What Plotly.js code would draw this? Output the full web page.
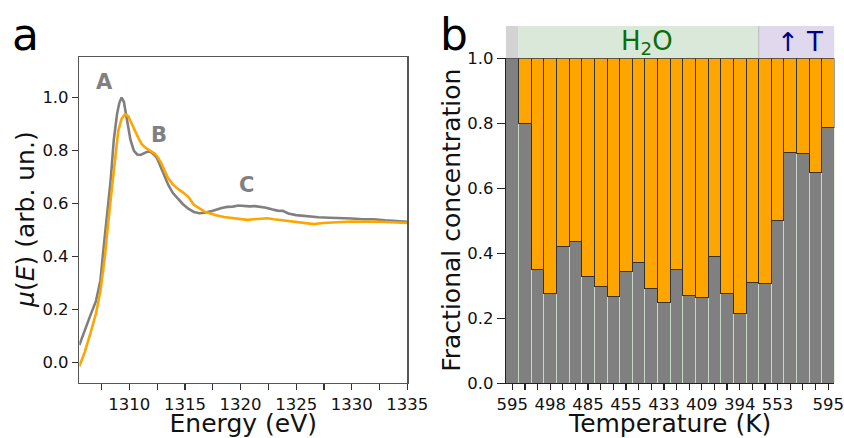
<!DOCTYPE html>
<html>
<head>
<meta charset="utf-8">
<script src="https://cdn.plot.ly/plotly-3.0.1.min.js"></script>
<style>html,body{margin:0;padding:0;background:#fff;}#chart{width:844px;height:438px;}</style>
</head>
<body>
<div id="chart"></div>
<script>
// ---- Panel a: XANES spectra ----
const energyGray = [1305.5,1306.0,1306.5,1307.0,1307.4,1307.7,1308.0,1308.3,1308.6,1308.9,1309.1,1309.3,1309.5,1309.7,1309.9,1310.1,1310.4,1310.7,1311.0,1311.3,1311.6,1311.9,1312.2,1312.5,1312.8,1313.1,1313.5,1313.9,1314.3,1314.8,1315.3,1315.8,1316.3,1316.8,1317.3,1317.8,1318.3,1318.8,1319.3,1319.8,1320.3,1320.8,1321.3,1321.8,1322.3,1322.8,1323.3,1323.8,1324.3,1325,1326,1327,1328,1329,1330,1331,1332,1333,1334,1335];
const muGray = [0.065,0.125,0.178,0.232,0.31,0.44,0.56,0.68,0.84,0.94,0.98,1.0,0.985,0.94,0.885,0.84,0.80,0.785,0.783,0.788,0.795,0.795,0.785,0.77,0.74,0.71,0.67,0.64,0.62,0.598,0.58,0.568,0.563,0.565,0.57,0.578,0.583,0.587,0.588,0.592,0.59,0.589,0.59,0.588,0.584,0.578,0.573,0.572,0.562,0.556,0.551,0.548,0.546,0.545,0.543,0.54,0.54,0.536,0.533,0.531];

const energyOrange = [1305.5,1306.0,1306.5,1307.0,1307.4,1307.8,1308.1,1308.4,1308.7,1309.0,1309.3,1309.6,1309.9,1310.2,1310.5,1310.8,1311.1,1311.4,1311.7,1312.0,1312.3,1312.6,1312.9,1313.2,1313.5,1313.9,1314.3,1314.8,1315.3,1315.8,1316.3,1316.8,1317.3,1317.8,1318.5,1319.3,1320,1320.6,1321.2,1321.8,1322.4,1323,1323.6,1324.2,1325,1325.8,1326.6,1327.4,1328.2,1329,1330,1331,1332,1333,1334,1335];
const muOrange = [-0.015,0.04,0.11,0.185,0.27,0.40,0.53,0.65,0.78,0.875,0.92,0.937,0.93,0.905,0.875,0.848,0.825,0.812,0.805,0.797,0.788,0.772,0.75,0.72,0.695,0.673,0.657,0.642,0.625,0.595,0.58,0.568,0.562,0.555,0.549,0.544,0.54,0.538,0.54,0.541,0.544,0.54,0.537,0.532,0.528,0.525,0.522,0.526,0.528,0.53,0.532,0.531,0.532,0.53,0.528,0.526];

const energyTicks = [1310,1315,1320,1325,1330,1335];
const muTicks = [0,0.2,0.4,0.6,0.8,1.0];

// ---- Panel b: fractional concentration ----
const grayFraction = [1.0,0.80,0.35,0.277,0.422,0.436,0.33,0.297,0.266,0.343,0.373,0.292,0.249,0.351,0.269,0.265,0.389,0.275,0.216,0.31,0.308,0.50,0.71,0.708,0.648,0.787];
const tempTickPos = [0,3,6,9,12,15,18,21,25];
const tempTickText = ['595','498','485','455','433','409','394','553','595'];
const fracTicks = [0,0.2,0.4,0.6,0.8,1.0];

const FONT = 'DejaVu Sans, sans-serif';
const barIdx = grayFraction.map((_, i) => i);
const orangeFraction = grayFraction.map(v => 1 - v);

const traces = [
  {x: energyGray, y: muGray, type: 'scatter', mode: 'lines', xaxis: 'x', yaxis: 'y',
   line: {color: '#808080', width: 2.6}, hoverinfo: 'skip'},
  {x: energyOrange, y: muOrange, type: 'scatter', mode: 'lines', xaxis: 'x', yaxis: 'y',
   line: {color: '#FFA500', width: 2.6}, hoverinfo: 'skip'},
  {x: barIdx, y: grayFraction, type: 'bar', xaxis: 'x2', yaxis: 'y2',
   marker: {color: '#808080', line: {color: '#c8d8c8', width: 1}}},
  {x: barIdx, y: orangeFraction, type: 'bar', xaxis: 'x2', yaxis: 'y2',
   marker: {color: '#FFA500', line: {color: '#333333', width: 1}}}
];

const axisCommon = {
  showgrid: false, zeroline: false, showline: true, ticks: 'outside', ticklen: 6,
  tickwidth: 1.2, tickfont: {family: FONT, size: 16.5, color: '#111'}
};

const stripBottom = 0.8669, stripTop = 0.9406;
const titleFont = {family: FONT, size: 25, color: '#111'};

const layout = {
  width: 844, height: 438,
  margin: {l: 0, r: 0, t: 0, b: 0},
  paper_bgcolor: '#fff', plot_bgcolor: '#fff',
  showlegend: false,
  font: {family: FONT, color: '#111'},
  barmode: 'stack', bargap: 0,
  xaxis: Object.assign({}, axisCommon, {
    domain: [0.094, 0.4826], anchor: 'y', range: [1305.5, 1335],
    tickmode: 'array', tickvals: energyTicks,
    minor: {tickmode: 'linear', tick0: 1307.5, dtick: 2.5, ticks: 'outside', ticklen: 6, tickwidth: 1.2, tickcolor: '#333'},
    mirror: true, linecolor: '#555', linewidth: 1.4, tickcolor: '#333',
    title: {text: 'Energy (eV)', font: titleFont, standoff: 4}
  }),
  yaxis: Object.assign({}, axisCommon, {
    domain: [0.1263, 0.8692], anchor: 'x', range: [-0.077, 1.152],
    tickmode: 'array', tickvals: muTicks, tickformat: '.1f',
    mirror: true, linecolor: '#555', linewidth: 1.4, tickcolor: '#333'
  }),
  xaxis2: Object.assign({}, axisCommon, {
    domain: [0.5995, 0.9887], anchor: 'y2', range: [-0.5, 25.5],
    tickmode: 'array', tickvals: tempTickPos, ticktext: tempTickText,
    minor: {tickmode: 'linear', tick0: 0, dtick: 1, ticks: 'outside', ticklen: 6, tickwidth: 1.2, tickcolor: '#222'},
    linecolor: '#222', linewidth: 1.2, tickcolor: '#222',
    title: {text: 'Temperature (K)', font: titleFont, standoff: 4}
  }),
  yaxis2: Object.assign({}, axisCommon, {
    domain: [0.1249, stripBottom], anchor: 'x2', range: [0, 1.0],
    tickmode: 'array', tickvals: fracTicks, tickformat: '.1f', ticklen: 8,
    linecolor: '#222', linewidth: 1.2, tickcolor: '#222'
  }),
  shapes: [
    {type: 'rect', xref: 'x2', yref: 'paper', x0: -0.5, x1: 0.5, y0: stripBottom, y1: stripTop,
     fillcolor: '#d3d3d3', line: {width: 0}, layer: 'below'},
    {type: 'rect', xref: 'x2', yref: 'paper', x0: 0.5, x1: 19.5, y0: stripBottom, y1: stripTop,
     fillcolor: '#d9e8d9', line: {width: 0}, layer: 'below'},
    {type: 'rect', xref: 'x2', yref: 'paper', x0: 19.5, x1: 25.5, y0: stripBottom, y1: stripTop,
     fillcolor: '#e0d8ec', line: {width: 0}, layer: 'below'},
    {type: 'line', xref: 'x2', yref: 'paper', x0: 19.5, x1: 19.5, y0: stripBottom, y1: stripTop,
     line: {color: '#bbbbbb', width: 1}}
  ],
  annotations: [
    {text: 'a', xref: 'paper', yref: 'paper', x: 0.012, y: 0.985, xanchor: 'left', yanchor: 'top',
     showarrow: false, font: {family: FONT, size: 44, color: '#000'}},
    {text: 'b', xref: 'paper', yref: 'paper', x: 0.519, y: 0.985, xanchor: 'left', yanchor: 'top',
     showarrow: false, font: {family: FONT, size: 44, color: '#000'}},
    {text: '<i>μ</i>(<i>E</i>) (arb. un.)', xref: 'paper', yref: 'paper', x: 25 / 844, y: 0.4977,
     textangle: -90, xanchor: 'center', yanchor: 'middle', showarrow: false, font: titleFont},
    {text: 'Fractional concentration', xref: 'paper', yref: 'paper', x: 452 / 844, y: 0.4959,
     textangle: -90, xanchor: 'center', yanchor: 'middle', showarrow: false, font: titleFont},
    {text: '<b>A</b>', xref: 'x', yref: 'y', x: 1307.75, y: 1.06, showarrow: false,
     font: {family: FONT, size: 21, color: '#808080'}},
    {text: '<b>B</b>', xref: 'x', yref: 'y', x: 1312.7, y: 0.858, showarrow: false,
     font: {family: FONT, size: 21, color: '#808080'}},
    {text: '<b>C</b>', xref: 'x', yref: 'y', x: 1320.5, y: 0.67, showarrow: false,
     font: {family: FONT, size: 21, color: '#808080'}},
    {text: 'H<sub>2</sub>O', xref: 'x2', yref: 'paper', x: 10.7, y: (stripBottom + stripTop) / 2,
     xanchor: 'center', yanchor: 'middle',
     showarrow: false, font: {family: FONT, size: 26, color: '#0b6e0b'}},
    {text: '↑ T', xref: 'x2', yref: 'paper', x: 22.8, y: (stripBottom + stripTop) / 2,
     xanchor: 'center', yanchor: 'middle',
     showarrow: false, font: {family: FONT, size: 26, color: '#00008b'}}
  ]
};

Plotly.newPlot('chart', traces, layout, {displayModeBar: false, staticPlot: true});
</script>
</body>
</html>
